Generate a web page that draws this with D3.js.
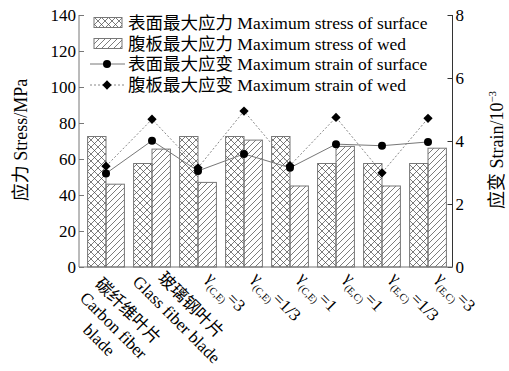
<!DOCTYPE html>
<html>
<head>
<meta charset="utf-8">
<script src="https://cdn.jsdelivr.net/npm/d3@7"></script>
<style>
  body { margin: 0; background: #fff; }
  text { font-family: "Liberation Serif", "Noto Sans CJK SC", serif; fill: #000; }
</style>
</head>
<body>
<div id="viz"></div>
<script>
(function() {

var categories = ["碳纤维叶片\nCarbon fiber\nblade", "玻璃钢叶片\nGlass fiber blade",
  "γ(C,E)=3", "γ(C,E)=1/3", "γ(C,E)=1", "γ(E,C)=1", "γ(E,C)=1/3", "γ(E,C)=3"];
var surfaceStress = [72.5, 57.5, 72.5, 72.5, 72.5, 57.5, 57.5, 57.5];
var webStress = [46, 65.5, 47, 70.5, 45, 67, 45, 66];
var surfaceStrain = [2.97, 4.01, 3.05, 3.59, 3.15, 3.9, 3.85, 3.97];
var webStrain = [3.2, 4.69, 3.15, 4.95, 3.22, 4.75, 2.99, 4.72];
var stressTicks = [0, 20, 40, 60, 80, 100, 120, 140];
var strainTicks = [0, 2, 4, 6, 8];
var legendLabels = ["表面最大应力 Maximum stress of surface", "腹板最大应力 Maximum stress of wed",
  "表面最大应变 Maximum strain of surface", "腹板最大应变 Maximum strain of wed"];

var W = 509, H = 371;
var left = 79, right = 452.5, top = 15, bottom = 267;

var svg = d3.select("#viz").append("svg")
    .attr("width", W).attr("height", H);

var defs = svg.append("defs");
var cross = defs.append("pattern").attr("id", "cross")
    .attr("patternUnits", "userSpaceOnUse").attr("width", 7).attr("height", 7);
cross.append("path").attr("d", "M0,0L7,7M7,0L0,7")
    .attr("stroke", "#444").attr("stroke-width", 0.7);
var diag = defs.append("pattern").attr("id", "diag")
    .attr("patternUnits", "userSpaceOnUse").attr("width", 6).attr("height", 6);
diag.append("path").attr("d", "M-1,7L7,-1M-4,4L4,-4M2,10L10,2")
    .attr("stroke", "#444").attr("stroke-width", 0.7);

var idx = d3.range(categories.length);
var x = d3.scaleBand().domain(idx).range([83, 451]).paddingInner(0.2).paddingOuter(0.1);
var xs = d3.scaleBand().domain([0, 1]).range([0, x.bandwidth()]);
var y = d3.scaleLinear().domain([0, 140]).range([bottom, top]);
var y2 = d3.scaleLinear().domain([0, 8]).range([bottom, top]);

// bars
var g = svg.append("g");
g.selectAll("rect.s").data(surfaceStress).enter().append("rect")
    .attr("x", function(d, i) { return x(i) + xs(0); })
    .attr("y", function(d) { return y(d); })
    .attr("width", xs.bandwidth())
    .attr("height", function(d) { return y(0) - y(d); })
    .attr("fill", "url(#cross)").attr("stroke", "#777").attr("stroke-width", 1);
g.selectAll("rect.w").data(webStress).enter().append("rect")
    .attr("x", function(d, i) { return x(i) + xs(1); })
    .attr("y", function(d) { return y(d); })
    .attr("width", xs.bandwidth())
    .attr("height", function(d) { return y(0) - y(d); })
    .attr("fill", "url(#diag)").attr("stroke", "#777").attr("stroke-width", 1);

// strain lines
var cx = function(i) { return x(i) + x.bandwidth() / 2; };
var line = d3.line().x(function(d, i) { return cx(i); }).y(function(d) { return y2(d); });
svg.append("path").datum(webStrain).attr("d", line)
    .attr("fill", "none").attr("stroke", "#888").attr("stroke-width", 1).attr("stroke-dasharray", "2,2");
svg.append("path").datum(surfaceStrain).attr("d", line)
    .attr("fill", "none").attr("stroke", "#777").attr("stroke-width", 1);

var diamond = d3.symbol().type(d3.symbolDiamond2).size(55);
svg.selectAll("path.wm").data(webStrain).enter().append("path")
    .attr("d", diamond)
    .attr("transform", function(d, i) { return "translate(" + cx(i) + "," + y2(d) + ")"; })
    .attr("fill", "#000");
svg.selectAll("circle.sm").data(surfaceStrain).enter().append("circle")
    .attr("cx", function(d, i) { return cx(i); })
    .attr("cy", function(d) { return y2(d); })
    .attr("r", 4).attr("fill", "#000");

// axes
var yAxis = svg.append("g").attr("transform", "translate(" + left + ",0)")
    .call(d3.axisRight(y).tickValues(stressTicks).tickSize(5).tickFormat(d3.format("d")));
yAxis.select(".domain").attr("stroke", "#777").attr("d", "M0," + top + "V" + bottom);
yAxis.selectAll(".tick line").attr("stroke", "#777");
yAxis.selectAll(".tick text").attr("x", -3).attr("text-anchor", "end")
    .style("font-size", "17px").attr("font-family", null);

var y2Axis = svg.append("g").attr("transform", "translate(" + right + ",0)")
    .call(d3.axisLeft(y2).tickValues(strainTicks).tickSize(5).tickFormat(d3.format("d")));
y2Axis.select(".domain").attr("stroke", "#333").attr("d", "M0," + top + "V" + bottom);
y2Axis.selectAll(".tick line").attr("stroke", "#333");
y2Axis.selectAll(".tick text").attr("x", 3).attr("text-anchor", "start")
    .style("font-size", "17px").attr("font-family", null);

svg.append("line").attr("x1", left).attr("x2", right).attr("y1", bottom).attr("y2", bottom)
    .attr("stroke", "#777").attr("stroke-width", 1.2);

// axis titles
svg.append("text").attr("transform", "translate(27,140) rotate(-90)")
    .attr("text-anchor", "middle").style("font-size", "18px").text("应力 Stress/MPa");
var t2 = svg.append("text").attr("transform", "translate(503,150) rotate(-90)")
    .attr("text-anchor", "middle").style("font-size", "18px");
t2.append("tspan").text("应变 Strain/10");
t2.append("tspan").attr("dy", -7).style("font-size", "11px").text("−3");

// x labels
categories.forEach(function(c, i) {
  var m = c.match(/^γ(\(.*?\))(=.*)$/);
  var ox = cx(i) + 5, oy = 279;
  if (m) {
    var t = svg.append("text").attr("transform", "translate(" + (cx(i) + 7) + "," + oy + ") rotate(45)")
        .style("font-size", "17px");
    t.append("tspan").text("γ");
    t.append("tspan").attr("dy", 6).style("font-size", "10px").text(m[1]);
    t.append("tspan").attr("dy", -6).text(m[2]);
  } else {
    var lines = c.split("\n");
    if (lines.length > 2) { ox -= 17; oy += 6; }
    var gl = svg.append("g").attr("transform", "translate(" + ox + "," + oy + ") rotate(45)");
    var first = gl.append("text").style("font-size", "17px").text(lines[0]);
    var w1 = first.node().getComputedTextLength();
    lines.slice(1).forEach(function(l, k) {
      gl.append("text").attr("x", w1 / 2).attr("y", (k + 1) * 20.5)
          .attr("text-anchor", "middle").style("font-size", "17px").text(l);
    });
  }
});

// legend
var rows = [22.5, 43.5, 64, 85];
var lg = svg.append("g");
lg.append("rect").attr("x", 94).attr("y", rows[0] - 5).attr("width", 28).attr("height", 10)
    .attr("fill", "url(#cross)").attr("stroke", "#777");
lg.append("rect").attr("x", 94).attr("y", rows[1] - 5).attr("width", 28).attr("height", 10)
    .attr("fill", "url(#diag)").attr("stroke", "#777");
lg.append("line").attr("x1", 90).attr("x2", 125).attr("y1", rows[2]).attr("y2", rows[2])
    .attr("stroke", "#777");
lg.append("circle").attr("cx", 107).attr("cy", rows[2]).attr("r", 4).attr("fill", "#000");
lg.append("line").attr("x1", 90).attr("x2", 125).attr("y1", rows[3]).attr("y2", rows[3])
    .attr("stroke", "#888").attr("stroke-dasharray", "2,2");
lg.append("path").attr("d", diamond)
    .attr("transform", "translate(107," + rows[3] + ")").attr("fill", "#000");
lg.selectAll("text").data(legendLabels).enter().append("text")
    .attr("x", 128).attr("y", function(d, i) { return rows[i]; })
    .attr("dominant-baseline", "central").style("font-size", "17.5px")
    .text(function(d) { return d; });

})();
</script>
</body>
</html>
